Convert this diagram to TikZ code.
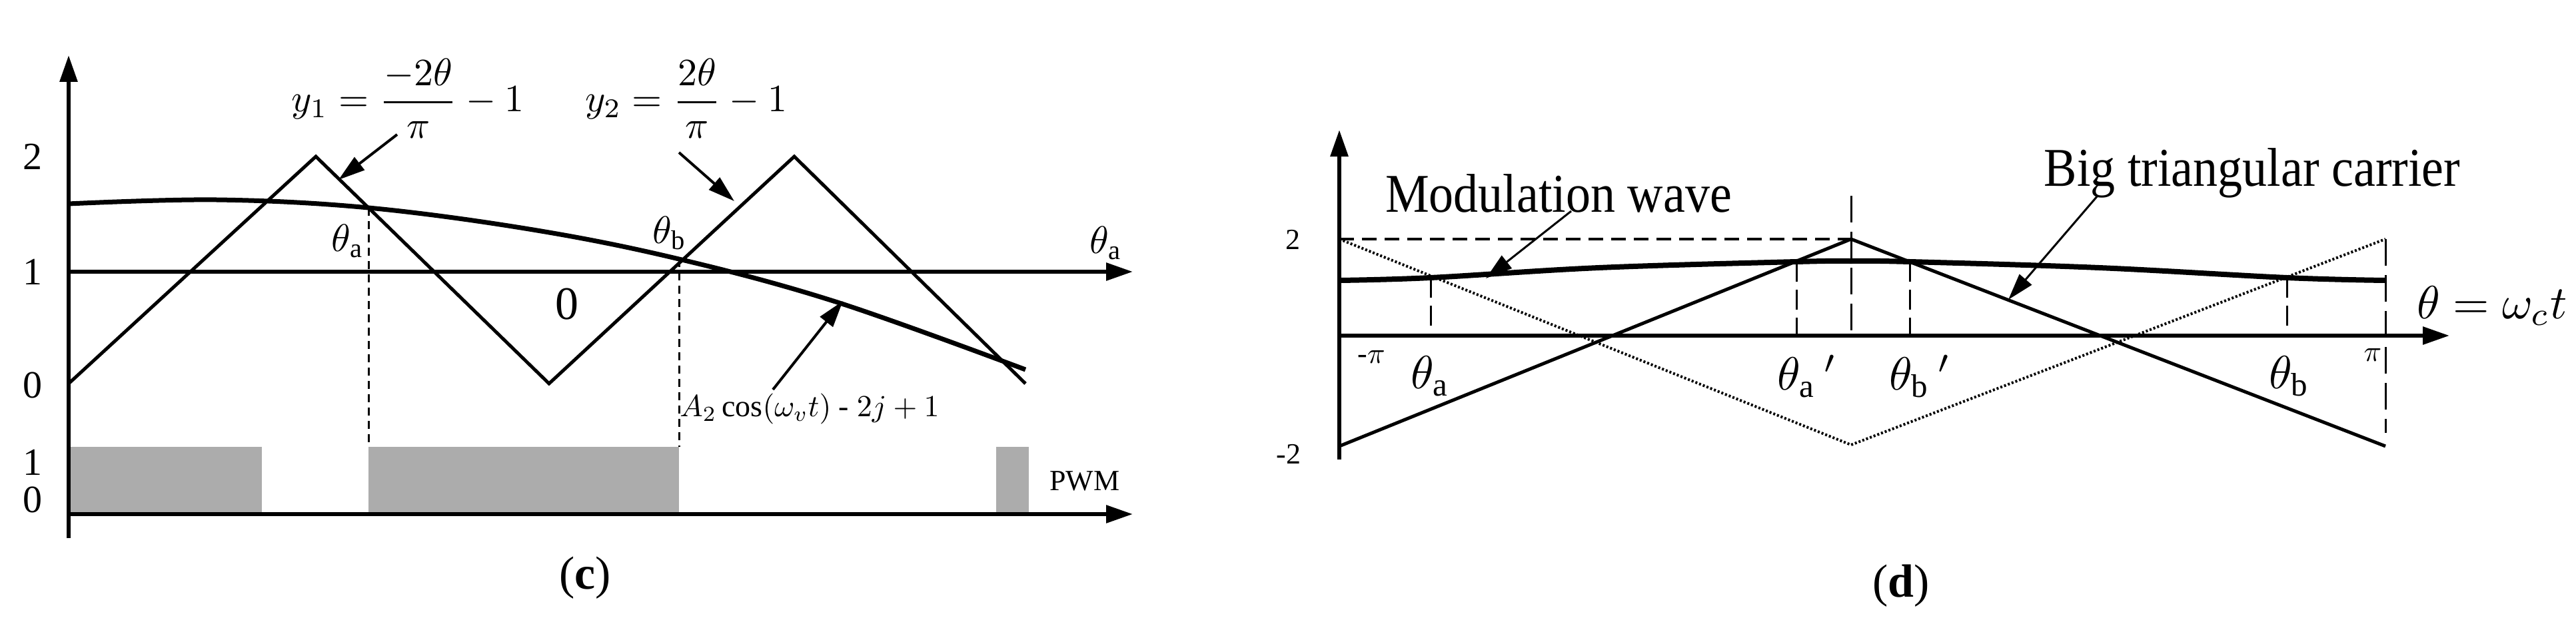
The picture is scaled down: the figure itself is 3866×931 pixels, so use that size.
\documentclass[tikz,border=0pt]{standalone}
\usepackage{amsmath}
\usepackage{fontspec}
\setmainfont{Liberation Serif}
\usetikzlibrary{arrows.meta}
\begin{document}
\begin{tikzpicture}[x=1pt,y=-1pt,
  ln/.style={line width=5pt},
  ax/.style={line width=6pt,-{Triangle[length=40pt,width=26pt]}},
  pt/.style={-{Triangle[length=40pt,width=24pt]},line width=4pt},
  dsh/.style={line width=3pt,dash pattern=on 12pt off 8pt},
  sml/.style={scale=4.4,inner sep=0pt},
  lbl/.style={scale=5.8,inner sep=0pt},
  big/.style={scale=7,inner sep=0pt},
  ttl/.style={xscale=7.4,yscale=8.2,inner sep=0pt}]
\useasboundingbox (0,0) rectangle (3866,931);
% ---------- panel (c) ----------
\fill[gray!65] (103,671) rectangle (393,772);
\fill[gray!65] (553,671) rectangle (1019,772);
\fill[gray!65] (1495,671) rectangle (1544,772);
\coordinate (cyb) at (103,808); \coordinate (cyt) at (103,83);
\draw[ax] (cyb) -- (cyt);
\coordinate (cx0) at (103,408); \coordinate (cx1) at (1700,408);
\draw[ax] (cx0) -- (cx1);
\coordinate (cp0) at (103,772); \coordinate (cp1) at (1700,772);
\draw[ax] (cp0) -- (cp1);
\draw[ln,line join=miter] (103,576) -- (474,235) -- (824,576) -- (1192,235) -- (1539,576);
\draw[line width=7pt] plot[smooth,tension=0.6] coordinates {(103,306) (325,300) (553,312) (800,345) (1019,389) (1257,454) (1539,555)};
\draw[dsh] (553,312) -- (553,671);
\draw[dsh] (1019,389) -- (1019,671);
\node[lbl] (c2) at (49,235) {2};
\node[lbl] (c1) at (49,408) {1};
\node[lbl] (c0) at (49,578) {0};
\node[lbl] (p1) at (49,694) {1};
\node[lbl] (p0) at (49,750) {0};
\node[sml] (pwm) at (1628,722) {PWM};
\node[lbl] (tha) at (522,362) {$\theta_{\mathrm{a}}$};
\node[lbl] (thb) at (1005,350) {$\theta_{\mathrm{b}}$};
\node[lbl] (thr) at (1660,365) {$\theta_{\mathrm{a}}$};
\node[big] (zero) at (851,457) {0};
\node[lbl] (y1) at (612,148) {$y_1=\dfrac{-2\theta}{\pi}-1$};
\node[lbl] (y2) at (1030,148) {$y_2=\dfrac{2\theta}{\pi}-1$};
\node[scale=4.6,inner sep=0pt] (cosl) at (1215,614) {$A_2\cos(\omega_v t)\text{ - }2j+1$};
\coordinate (a1s) at (596,202); \coordinate (a1e) at (508,270);
\draw[pt] (a1s) -- (a1e);
\coordinate (a2s) at (1019,229); \coordinate (a2e) at (1102,302);
\draw[pt] (a2s) -- (a2e);
\coordinate (a3s) at (1160,585); \coordinate (a3e) at (1265,452);
\draw[pt] (a3s) -- (a3e);
\node[big] (cap) at (878,868) {(\textbf{c})};
% ---------- panel (d) ----------
\coordinate (dyb) at (2010,690); \coordinate (dyt) at (2010,195);
\draw[ax] (dyb) -- (dyt);
\coordinate (dx0) at (2010,504); \coordinate (dx1) at (3676,504);
\draw[ax] (dx0) -- (dx1);
\draw[dsh,line width=4pt,dash pattern=on 22pt off 12pt] (2010,359) -- (2778,359);
\draw[dsh,dash pattern=on 40pt off 14pt] (2778,294) -- (2778,504);
\draw[dsh,dash pattern=on 40pt off 14pt] (3580,359) -- (3580,650);
\draw[line width=4pt,dash pattern=on 3pt off 3pt] (2010,359) -- (2778,668) -- (3580,359);
\draw[ln,line join=miter] (2010,670) -- (2778,359) -- (3580,670);
\draw[line width=8pt] plot[smooth,tension=0.6] coordinates {(2010,421) (2147,417) (2400,402) (2696,393) (2778,392) (2866,393) (3150,402) (3432,417) (3580,421)};
\draw[dsh,dash pattern=on 30pt off 12pt] (2147,417) -- (2147,504);
\draw[dsh,dash pattern=on 30pt off 12pt] (2696,393) -- (2696,504);
\draw[dsh,dash pattern=on 30pt off 12pt] (2866,393) -- (2866,504);
\draw[dsh,dash pattern=on 30pt off 12pt] (3432,417) -- (3432,504);
\node[sml] (d2) at (1940,360) {2};
\node[sml] (dm2) at (1934,682) {-2};
\node[sml] (dmp) at (2058,536) {-$\pi$};
\node[sml] (dp) at (3561,533) {$\pi$};
\node[big] (da) at (2147,565) {$\theta_{\mathrm{a}}$};
\node[big] (dap) at (2712,565) {$\theta_{\mathrm{a}}\,'$};
\node[big] (dbp) at (2882,565) {$\theta_{\mathrm{b}}\,'$};
\node[big] (db) at (3436,565) {$\theta_{\mathrm{b}}$};
\node[big] (dth) at (3740,459) {$\theta=\omega_c t$};
\node[ttl] (mw) at (2339,290) {Modulation wave};
\node[ttl] (btc) at (3380,260) {Big triangular carrier};
\coordinate (m1s) at (2358,317); \coordinate (m1e) at (2230,418);
\draw[pt,line width=3pt] (m1s) -- (m1e);
\coordinate (b1s) at (3148,294); \coordinate (b1e) at (3014,450);
\draw[pt,line width=3pt] (b1s) -- (b1e);
\node[big] (dcap) at (2853,880) {(\textbf{d})};
\end{tikzpicture}
\end{document}
